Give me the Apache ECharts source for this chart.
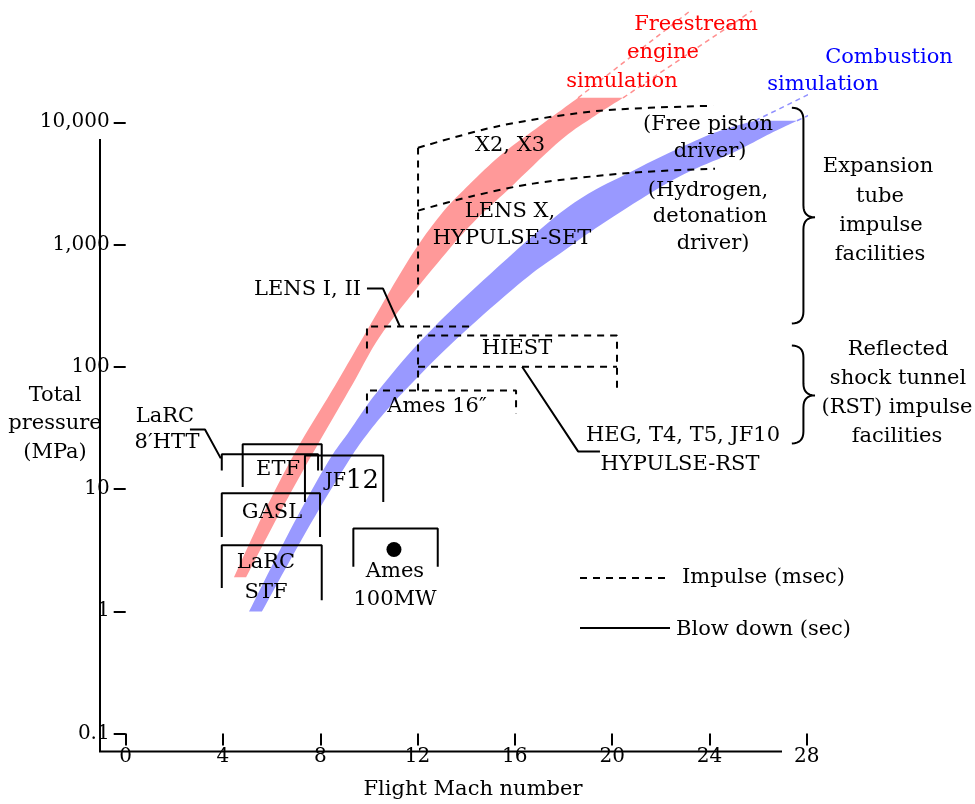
<!DOCTYPE html>
<html>
<head>
<meta charset="utf-8">
<script src="https://cdn.jsdelivr.net/npm/echarts@6/dist/echarts.min.js"></script>
<style>
html, body { margin: 0; padding: 0; background: #fff; }
#chart { width: 975px; height: 804px; }
</style>
</head>
<body>
<div id="chart"></div>
<script>
var chart = echarts.init(document.getElementById('chart'));

// axis ticks
var machTicks = [0, 4, 8, 12, 16, 20, 24, 28];
var pressureTicks = [0.1, 1, 10, 100, 1000, 10000];

// simulation bands, [Mach, MPa]
var freestreamUpper = [[4.45, 1.90], [5.73, 6.70], [7.08, 21.9], [8.61, 70.3], [9.92, 198], [11.69, 782],
	[12.92, 1722], [13.87, 2756], [15.39, 5320], [17.03, 9360], [18.60, 15850]];
var freestreamLower = [[4.95, 1.90], [6.39, 6.70], [7.83, 21.9], [9.30, 70.3], [10.62, 198], [13.01, 782],
	[14.36, 1567], [15.68, 2756], [17.86, 7060], [19.30, 11300], [20.45, 15850]];
var combustionUpper = [[5.07, 0.993], [6.76, 4.60], [8.28, 16.2], [9.22, 30.2], [10.29, 60.5], [12.22, 170],
	[14.69, 507], [18.15, 2000], [20.86, 4020], [23.61, 7340], [24.85, 9020], [25.88, 10290]];
var combustionLower = [[5.60, 0.993], [7.45, 4.60], [9.10, 16.2], [10.05, 30.2], [11.36, 60.5], [13.62, 170],
	[16.34, 507], [17.86, 843], [19.79, 1567], [22.67, 3520], [24.97, 5640], [26.49, 8060], [27.60, 10290]];
var freestreamExt = [[[18.60, 15850], [23.21, 81500]], [[20.45, 15850], [25.75, 81500]]];
var combustionExt = [[[25.88, 10290], [31.55, 37000]], [[27.60, 10290], [34.22, 41400]]];

// impulse facilities (dashed)
var x2x3 = [[12.02, 368], [12.02, 6190], [15.39, 9360], [19.50, 12420], [24.15, 13640]];
var lensX = [[12.02, 1892], [14.16, 2461], [16.75, 3147], [20.86, 3870], [24.23, 4170]];
var lensI = [[9.92, 141], [9.92, 213], [14.16, 213], [14.16, 198]];
var hiest = [[12.02, 64], [12.02, 180], [20.20, 180], [20.20, 64]];
var hiestMid = [[12.02, 100], [20.20, 100]];
var ames16 = [[9.92, 41.5], [9.92, 64], [16.05, 64], [16.05, 41.5]];

// blow down facilities (solid)
var larc8 = [[3.95, 14.2], [3.95, 19.2], [7.91, 19.2], [7.91, 14.2]];
var etf = [[4.81, 10.4], [4.81, 23.2], [8.06, 23.2], [8.06, 14.2]];
var jf12 = [[7.37, 7.83], [7.37, 18.8], [10.59, 18.8], [10.59, 7.83]];
var gasl = [[3.95, 4.05], [3.95, 9.23], [7.99, 9.23], [7.99, 4.05]];
var larcStf = [[3.95, 1.55], [3.95, 3.47], [8.06, 3.47], [8.06, 1.23]];
var ames100 = [[9.36, 2.31], [9.36, 4.75], [12.83, 4.75], [12.83, 2.31]];
var ames100Point = [[11.03, 3.20]];

// leader lines
var larc8Leader = [[2.64, 30.7], [3.26, 30.7], [3.91, 17.8]];
var lensILeader = [[9.92, 436], [10.58, 436], [11.28, 213]];
var hegLeader = [[16.30, 100], [18.60, 20.3], [19.50, 20.3]];

// braces: [Mach left, Mach tip, MPa top, MPa tip, MPa bottom]
var braces = [[27.39, 28.34, 13130, 1668, 226], [27.39, 28.34, 149, 58.3, 23.6]];

var FONT = '"DejaVu Serif"';

function seg(data, dashed, color, width, smooth) {
	return {
		type: 'line',
		data: data,
		symbol: 'none',
		clip: false,
		silent: true,
		smooth: smooth || false,
		z: 4,
		lineStyle: {
			color: color || '#000',
			width: width || 2,
			type: dashed ? [7, 6] : 'solid'
		}
	};
}

// catmull-rom through pixel points
function spline(pts, steps) {
	var out = [pts[0]];
	for (var i = 0; i < pts.length - 1; i++) {
		var p0 = pts[Math.max(i - 1, 0)], p1 = pts[i], p2 = pts[i + 1], p3 = pts[Math.min(i + 2, pts.length - 1)];
		for (var s = 1; s <= steps; s++) {
			var t = s / steps, t2 = t * t, t3 = t2 * t;
			out.push([0, 1].map(function(k) {
				return 0.5 * (2 * p1[k] + (-p0[k] + p2[k]) * t + (2 * p0[k] - 5 * p1[k] + 4 * p2[k] - p3[k]) * t2 +
					(-p0[k] + 3 * p1[k] - 3 * p2[k] + p3[k]) * t3);
			}));
		}
	}
	return out;
}

function band(upper, lower, color) {
	return {
		type: 'custom',
		silent: true,
		z: 2,
		data: [[14, 100]],
		renderItem: function(params, api) {
			var up = spline(upper.map(function(p) { return api.coord(p); }), 10);
			var lo = spline(lower.map(function(p) { return api.coord(p); }), 10);
			return { type: 'polygon', shape: { points: up.concat(lo.reverse()) }, style: { fill: color } };
		}
	};
}

// quadratic curve points
function quad(a, c, b, n) {
	var out = [];
	for (var i = 1; i <= n; i++) {
		var t = i / n;
		out.push([(1 - t) * (1 - t) * a[0] + 2 * t * (1 - t) * c[0] + t * t * b[0],
			(1 - t) * (1 - t) * a[1] + 2 * t * (1 - t) * c[1] + t * t * b[1]]);
	}
	return out;
}

var braceSeries = {
	type: 'custom',
	silent: true,
	z: 4,
	data: braces,
	renderItem: function(params, api) {
		var xl = api.coord([api.value(0), api.value(2)])[0];
		var xt = api.coord([api.value(1), api.value(2)])[0];
		var yt = api.coord([api.value(0), api.value(2)])[1];
		var ym = api.coord([api.value(0), api.value(3)])[1];
		var yb = api.coord([api.value(0), api.value(4)])[1];
		var xs = (xl + xt) / 2, r = 12;
		var pts = [[xl, yt]];
		pts = pts.concat(quad([xl, yt], [xs, yt], [xs, yt + r], 8));
		pts.push([xs, ym - r]);
		pts = pts.concat(quad([xs, ym - r], [xs, ym], [xt, ym], 8));
		pts = pts.concat(quad([xt, ym], [xs, ym], [xs, ym + r], 8));
		pts.push([xs, yb - r]);
		pts = pts.concat(quad([xs, yb - r], [xs, yb], [xl, yb], 8));
		return { type: 'polyline', shape: { points: pts }, style: { stroke: '#000', lineWidth: 2, fill: null } };
	}
};

// annotation texts: [text, x, y, align, color]
var labels = [
	['Freestream', 696, 25, 'center', '#ff0000'],
	['engine', 663, 53, 'center', '#ff0000'],
	['simulation', 622, 82, 'center', '#ff0000'],
	['Combustion', 889, 58, 'center', '#0000ff'],
	['simulation', 823, 85, 'center', '#0000ff'],
	['X2, X3', 510, 146, 'center'],
	['(Free piston', 708, 125, 'center'],
	['driver)', 710, 152, 'center'],
	['(Hydrogen,', 708, 191, 'center'],
	['detonation', 710, 217, 'center'],
	['driver)', 713, 244, 'center'],
	['LENS X,', 510, 212, 'center'],
	['HYPULSE-SET', 512, 239, 'center'],
	['Expansion', 878, 167, 'center'],
	['tube', 880, 197, 'center'],
	['impulse', 881, 226, 'center'],
	['facilities', 880, 255, 'center'],
	['LENS I, II', 361, 290, 'right'],
	['HIEST', 517, 349, 'center'],
	['Reflected', 898, 350, 'center'],
	['shock tunnel', 898, 379, 'center'],
	['(RST) impulse', 897, 408, 'center'],
	['facilities', 897, 437, 'center'],
	['Ames 16\u2033', 437, 407, 'center'],
	['HEG, T4, T5, JF10', 683, 436, 'center'],
	['HYPULSE-RST', 680, 465, 'center'],
	['LaRC', 165, 417, 'center'],
	['8\u2032HTT', 167, 443, 'center'],
	['ETF', 278, 470, 'center'],
	['GASL', 272, 513, 'center'],
	['LaRC', 266, 563, 'center'],
	['STF', 266, 593, 'center'],
	['Ames', 395, 572, 'center'],
	['100MW', 395, 600, 'center'],
	['Impulse (msec)', 682, 578, 'left'],
	['Blow down (sec)', 676, 630, 'left'],
	['Total', 55, 396, 'center'],
	['pressure', 55, 424, 'center'],
	['(MPa)', 55, 453, 'center'],
	['Flight Mach number', 473, 790, 'center']
];

var graphics = labels.map(function(l) {
	return {
		type: 'text', z: 10, silent: true,
		style: {
			text: l[0], x: l[1], y: l[2], font: '21px ' + FONT, fill: l[4] || '#000',
			align: l[3], textAlign: l[3], verticalAlign: 'middle', textVerticalAlign: 'middle'
		}
	};
});
graphics.push({
	type: 'text', z: 10, silent: true,
	style: {
		text: '{a|JF}{b|12}', x: 352, y: 481, align: 'center', textAlign: 'center',
		verticalAlign: 'middle', textVerticalAlign: 'middle', fill: '#000',
		rich: { a: { font: '19px ' + FONT, fill: '#000' }, b: { font: '26px ' + FONT, fill: '#000' } }
	}
});
// axis lines and legend keys
graphics.push(
	{ type: 'line', z: 10, shape: { x1: 100, y1: 139, x2: 100, y2: 752 }, style: { stroke: '#000', lineWidth: 2 } },
	{ type: 'line', z: 10, shape: { x1: 99, y1: 751.5, x2: 782, y2: 751.5 }, style: { stroke: '#000', lineWidth: 2 } },
	{ type: 'line', z: 10, shape: { x1: 580, y1: 578, x2: 665, y2: 578 }, style: { stroke: '#000', lineWidth: 2, lineDash: [7, 6] } },
	{ type: 'line', z: 10, shape: { x1: 580, y1: 628, x2: 670, y2: 628 }, style: { stroke: '#000', lineWidth: 2 } }
);

var series = [
	band(freestreamUpper, freestreamLower, '#ff9999'),
	band(combustionUpper, combustionLower, '#9999ff')
];
freestreamExt.forEach(function(d) {
	var s = seg(d, true, '#ff8f8f', 1.5); s.lineStyle.type = [5, 4]; series.push(s);
});
combustionExt.forEach(function(d) {
	var s = seg(d, true, '#8f8fff', 1.5); s.lineStyle.type = [5, 4]; series.push(s);
});
series.push(seg(x2x3.slice(0, 2), true));
series.push(seg(x2x3.slice(1), true, null, null, 0.3));
series.push(seg(lensX, true, null, null, 0.3));
[lensI, hiest, hiestMid, ames16].forEach(function(d) { series.push(seg(d, true)); });
[larc8, etf, jf12, gasl, larcStf, ames100, larc8Leader, lensILeader, hegLeader].forEach(function(d) { series.push(seg(d, false)); });
series.push({
	type: 'scatter', data: ames100Point, symbolSize: 15, silent: true, z: 5,
	itemStyle: { color: '#000', opacity: 1 }
});
series.push(braceSeries);

var option = {
	animation: false,
	grid: { left: 125.7, right: 168.3, top: -1, bottom: 70.5 },
	xAxis: {
		type: 'value', min: machTicks[0], max: machTicks[machTicks.length - 1], interval: 4,
		axisLine: { show: false },
		axisTick: { length: 12, lineStyle: { color: '#000', width: 2 } },
		axisLabel: { margin: 13, color: '#000', fontSize: 20, fontFamily: FONT },
		splitLine: { show: false }
	},
	yAxis: {
		type: 'log', logBase: 10, min: pressureTicks[0], max: 100000, splitNumber: 6,
		axisLine: { show: false },
		axisTick: { length: 12, customValues: pressureTicks, lineStyle: { color: '#000', width: 2 } },
		axisLabel: {
			margin: 16, color: '#000', fontSize: 20, fontFamily: FONT, customValues: pressureTicks,
			formatter: function(v) {
				if (v > pressureTicks[pressureTicks.length - 1] * 1.01) return '';
				return v >= 1000 ? Math.round(v).toLocaleString('en-US') : String(+v.toPrecision(3));
			}
		},
		minorTick: { show: false },
		splitLine: { show: false }
	},
	graphic: { elements: graphics },
	series: series
};
chart.setOption(option);
</script>
</body>
</html>
